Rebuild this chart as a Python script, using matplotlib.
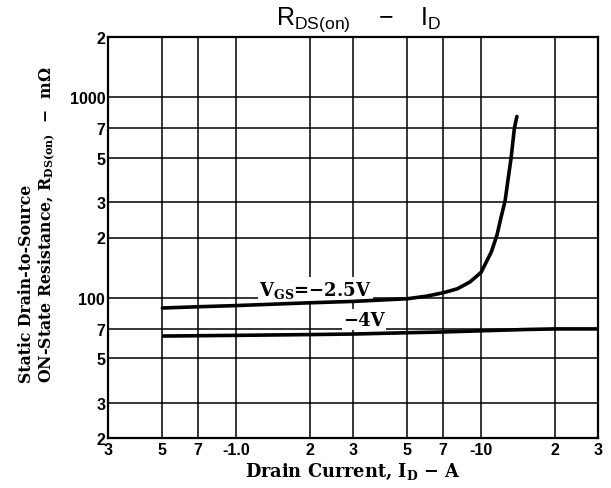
import matplotlib
matplotlib.use("Agg")
import matplotlib.pyplot as plt
from matplotlib.ticker import FixedLocator, FixedFormatter, NullLocator

# axis ticks / labels (log-log chart, datasheet style)
X_TICKS = [0.3, 0.5, 0.7, 1.0, 2, 3, 5, 7, 10, 20, 30]
X_LABELS = ["3", "5", "7", "-1.0", "2", "3", "5", "7", "-10", "2", "3"]
Y_TICKS = [20, 30, 50, 70, 100, 200, 300, 500, 700, 1000, 2000]
Y_LABELS = ["2", "3", "5", "7", "100", "2", "3", "5", "7", "1000", "2"]

# VGS = -2.5 V curve
ID_25 = [0.5, 0.7, 1.0, 2.0, 3.0, 5.0, 6.0, 7.0, 8.0, 9.0, 10.0, 10.5, 11.0,
         11.6, 12.06, 12.53, 12.92, 13.26, 13.67, 14.0]
R_25 = [89, 90.3, 91.5, 94.5, 96, 99, 102, 106, 111, 120, 134, 151, 169,
        205, 252, 305, 400, 499, 702, 803]

# VGS = -4 V curve
ID_4 = [0.5, 1.0, 2.0, 3.0, 5.0, 7.0, 10.0, 15.0, 20.0, 30.0]
R_4 = [64.5, 65, 65.6, 66, 67, 67.6, 68.5, 69.5, 70, 70]

SERIF = "DejaVu Serif"
SANS = "Liberation Sans"
MINUS = "\u2212"

fig = plt.figure(figsize=(6.11, 4.89), dpi=100)
ax = fig.add_axes([108 / 611, 1 - 439 / 489, 490 / 611, 401 / 489])

ax.set_xscale("log")
ax.set_yscale("log")
ax.set_xlim(0.3, 30)
ax.set_ylim(20, 2000)

ax.xaxis.set_major_locator(FixedLocator(X_TICKS))
ax.xaxis.set_major_formatter(FixedFormatter(X_LABELS))
ax.xaxis.set_minor_locator(NullLocator())
ax.yaxis.set_major_locator(FixedLocator(Y_TICKS))
ax.yaxis.set_major_formatter(FixedFormatter(Y_LABELS))
ax.yaxis.set_minor_locator(NullLocator())

ax.tick_params(length=0, pad=3)
ax.tick_params(axis="y", pad=2)
for lab in ax.get_xticklabels() + ax.get_yticklabels():
    lab.set_fontfamily(SANS)
    lab.set_fontweight("bold")
    lab.set_fontsize(11.5)

ax.grid(True, color="black", lw=1.1)
for sp in ax.spines.values():
    sp.set_linewidth(1.6)
    sp.set_color("black")

ax.plot(ID_25, R_25, color="black", lw=2.6, solid_capstyle="round", zorder=2)
ax.plot(ID_4, R_4, color="black", lw=2.6, solid_capstyle="butt", zorder=2)

# white boxes hide the grid behind the labels but stay under the curves
box = dict(facecolor="white", edgecolor="none", pad=1)
ax.text(1.24, 103.5, r"$\mathregular{V_{GS}}$=" + MINUS + "2.5V", family=SERIF,
        fontsize=13, fontweight="bold", ha="left", va="baseline", bbox=box,
        zorder=1.8)
ax.text(2.73, 73.5, MINUS + "4V", family=SERIF, fontsize=13, fontweight="bold",
        ha="left", va="baseline", bbox=box, zorder=1.8)

fig.text(359 / 611, 1 - 25 / 489,
         r"$\mathregular{R_{DS(on)}}$    " + MINUS + r"    $\mathregular{I_D}$",
         family=SANS, fontsize=18, ha="center", va="baseline")

ax.set_xlabel(r"Drain Current, $\mathregular{I_D}$ " + MINUS + " A", family=SERIF,
              fontsize=12.8, fontweight="bold", labelpad=3)
fig.text(38 / 611, 1 - 383 / 489,
         "Static Drain-to-Source\n"
         r"ON-State Resistance, $\mathregular{R_{DS(on)}}$  " + MINUS + "  m\u03a9",
         family=SERIF, fontsize=11.3, fontweight="bold", rotation=90,
         ha="center", va="bottom", multialignment="left", linespacing=1.1)

fig.savefig("out.png", dpi=100)
